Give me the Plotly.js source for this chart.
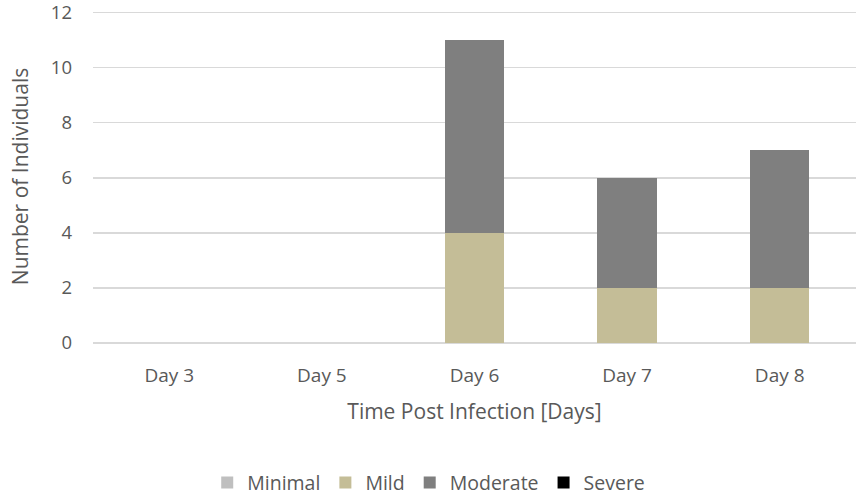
<!DOCTYPE html>
<html><head><meta charset="utf-8">
<script src="https://cdn.plot.ly/plotly-3.0.1.min.js"></script>
<style>html,body{margin:0;padding:0;background:#fff}#chart{width:856px;height:498px}</style>
</head><body><div id="chart"></div>
<script>
var categories = ["Day 3", "Day 5", "Day 6", "Day 7", "Day 8"];
var minimalVals = [0, 0, 0, 0, 0];
var mildVals = [0, 0, 4, 2, 2];
var moderateVals = [0, 0, 7, 4, 5];
var severeVals = [0, 0, 0, 0, 0];
var seriesNames = ["Minimal", "Mild", "Moderate", "Severe"];
var seriesColors = ["#bfbfbf", "#c4bd97", "#7f7f7f", "#000000"];
var allVals = [minimalVals, mildVals, moderateVals, severeVals];

var traces = allVals.map(function(v, i){
  return {type:"bar", x:categories, y:v, name:seriesNames[i],
    marker:{color:seriesColors[i]}, hoverinfo:"y+name"};
});
var font = {family:"Open Sans, sans-serif", color:"#595959", size:19};
var layout = {
  barmode:"stack", bargap:0.61,
  width:856, height:498,
  margin:{l:93, r:0, t:10, b:155, autoexpand:false},
  paper_bgcolor:"#fff", plot_bgcolor:"#fff",
  font:font,
  showlegend:true,
  legend:{orientation:"h", x:0.44, xanchor:"center", xref:"paper", y:-0.42, yanchor:"middle",
    font:{family:"Open Sans, sans-serif", size:19.5, color:"#595959"}, traceorder:"normal",
    itemwidth:30, itemsizing:"constant"},
  xaxis:{type:"category", showgrid:false, zeroline:false, showline:false, ticks:"",
    tickfont:{size:19, color:"#595959"}, ticklabelstandoff:19, automargin:false,
    title:{text:"Time Post Infection [Days]", font:{size:21, color:"#595959"}, standoff:17}},
  yaxis:{range:[0,12.1], tickvals:[0,2,4,6,8,10,12], showgrid:true, gridcolor:"#d9d9d9", gridwidth:1.3,
    zeroline:true, zerolinecolor:"#d9d9d9", zerolinewidth:1.3, showline:false, ticks:"",
    tickfont:{size:18.5, color:"#595959"}, ticklabelstandoff:20, automargin:false,
    ticklabeloverflow:"allow",
    title:{text:"Number of Individuals", font:{size:21, color:"#595959"}, standoff:16}}
};
Plotly.newPlot("chart", traces, layout, {displayModeBar:false, staticPlot:true});
</script></body></html>
